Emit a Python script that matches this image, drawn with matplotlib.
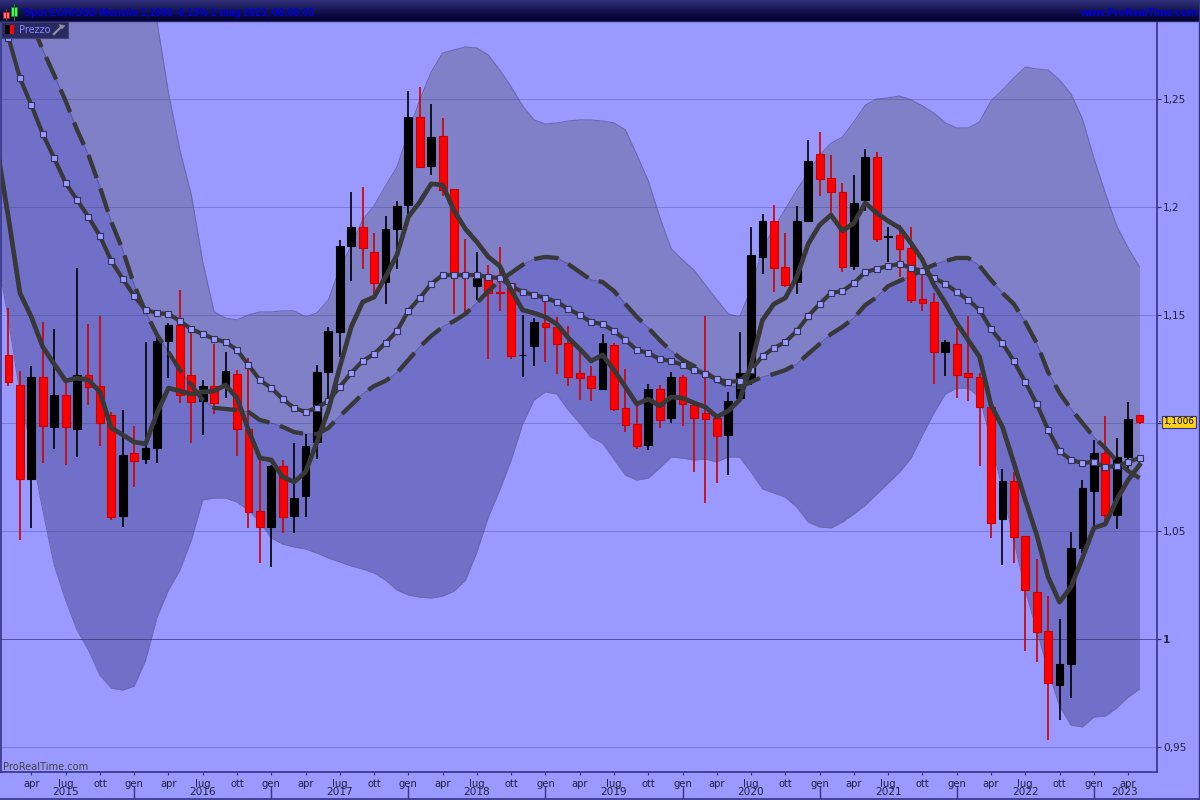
#!/usr/bin/env python3

import numpy as np
import matplotlib
matplotlib.use("Agg")
import matplotlib.pyplot as plt
from matplotlib.colors import LinearSegmentedColormap
from matplotlib.patches import Rectangle

# monthly candles, feb 2015 .. mag 2023
open_px = [1.1315, 1.1176, 1.0741, 1.1213, 1.0982, 1.1130, 1.0972, 1.1222, 1.1171, 1.1037,
           1.0569, 1.0861, 1.0833, 1.0884, 1.1380, 1.1454, 1.1222, 1.1102, 1.1171, 1.1167,
           1.1227, 1.0972, 1.0593, 1.0519, 1.0801, 1.0569, 1.0662, 1.0912, 1.1236, 1.1421,
           1.1820, 1.1908, 1.1792, 1.1653, 1.1898, 1.2009, 1.2417, 1.2190, 1.2329, 1.2084,
           1.1695, 1.1634, 1.1676, 1.1607, 1.1648, 1.1315, 1.1357, 1.1463, 1.1445, 1.1370,
           1.1232, 1.1218, 1.1158, 1.1361, 1.1070, 1.0995, 1.0898, 1.1158, 1.1023, 1.1213,
           1.1083, 1.1046, 1.1023, 1.0945, 1.1116, 1.1199, 1.1769, 1.1935, 1.1722, 1.1653,
           1.1935, 1.2246, 1.2134, 1.2070, 1.1727, 1.2033, 1.2232, 1.1861, 1.1871, 1.1810,
           1.1574, 1.1560, 1.1329, 1.1366, 1.1232, 1.1213, 1.1074, 1.0556, 1.0732, 1.0477,
           1.0218, 1.0037, 0.9787, 0.9884, 1.0421, 1.0685, 1.0861, 1.0574, 1.0843, 1.1037]
high_px = [1.1532, 1.1241, 1.1264, 1.1468, 1.1435, 1.1190, 1.1718, 1.1458, 1.1495, 1.1051,
           1.1060, 1.0986, 1.1375, 1.1398, 1.1463, 1.1616, 1.1431, 1.1199, 1.1366, 1.1329,
           1.1245, 1.1301, 1.0829, 1.0806, 1.0829, 1.0907, 1.0949, 1.1269, 1.1445, 1.1847,
           1.2070, 1.2093, 1.1880, 1.1958, 1.2028, 1.2537, 1.2556, 1.2477, 1.2412, 1.2084,
           1.1852, 1.1792, 1.1732, 1.1815, 1.1648, 1.1500, 1.1486, 1.1560, 1.1491, 1.1449,
           1.1338, 1.1264, 1.1412, 1.1370, 1.1250, 1.1079, 1.1181, 1.1176, 1.1236, 1.1222,
           1.1088, 1.1495, 1.1037, 1.1144, 1.1421, 1.1908, 1.1968, 1.2009, 1.1880, 1.2005,
           1.2310, 1.2347, 1.2241, 1.2111, 1.2148, 1.2269, 1.2255, 1.1908, 1.1917, 1.1908,
           1.1708, 1.1602, 1.1384, 1.1440, 1.1495, 1.1232, 1.1074, 1.0787, 1.0773, 1.0477,
           1.0370, 1.0199, 1.0093, 1.0495, 1.0736, 1.0921, 1.1032, 1.0931, 1.1097, 1.1037]
low_px = [1.1171, 1.0458, 1.0514, 1.0815, 1.0880, 1.0806, 1.0843, 1.1083, 1.0894, 1.0551,
          1.0519, 1.0704, 1.0810, 1.0815, 1.1208, 1.1093, 1.0907, 1.0945, 1.1042, 1.1116,
          1.0847, 1.0514, 1.0352, 1.0333, 1.0491, 1.0491, 1.0565, 1.0833, 1.1107, 1.1306,
          1.1658, 1.1713, 1.1593, 1.1551, 1.1713, 1.1954, 1.2185, 1.2148, 1.2051, 1.1505,
          1.1514, 1.1570, 1.1296, 1.1519, 1.1296, 1.1213, 1.1264, 1.1283, 1.1227, 1.1171,
          1.1107, 1.1102, 1.1153, 1.1056, 1.0958, 1.0880, 1.0875, 1.0977, 1.1000, 1.0986,
          1.0773, 1.0630, 1.0722, 1.0759, 1.1111, 1.1176, 1.1690, 1.1607, 1.1630, 1.1597,
          1.1931, 1.2051, 1.1963, 1.1699, 1.1708, 1.1982, 1.1838, 1.1746, 1.1676, 1.1556,
          1.1519, 1.1181, 1.1218, 1.1116, 1.1102, 1.0801, 1.0468, 1.0343, 1.0352, 0.9944,
          0.9894, 0.9532, 0.9625, 0.9727, 1.0398, 1.0519, 1.0542, 1.0509, 1.0782, 1.0995]
close_px = [1.1190, 1.0741, 1.1213, 1.0986, 1.1130, 1.0982, 1.1222, 1.1167, 1.1000, 1.0565,
            1.0852, 1.0824, 1.0884, 1.1380, 1.1454, 1.1130, 1.1097, 1.1171, 1.1093, 1.1241,
            1.0972, 1.0588, 1.0519, 1.0801, 1.0565, 1.0653, 1.0894, 1.1236, 1.1426, 1.1820,
            1.1908, 1.1810, 1.1648, 1.1898, 1.2005, 1.2417, 1.2185, 1.2324, 1.2079, 1.1695,
            1.1685, 1.1671, 1.1602, 1.1602, 1.1310, 1.1317, 1.1468, 1.1445, 1.1366, 1.1213,
            1.1208, 1.1162, 1.1370, 1.1065, 1.0991, 1.0894, 1.1158, 1.1014, 1.1213, 1.1088,
            1.1023, 1.1019, 1.0940, 1.1102, 1.1232, 1.1778, 1.1935, 1.1718, 1.1639, 1.1935,
            1.2213, 1.2130, 1.2070, 1.1722, 1.2019, 1.2232, 1.1852, 1.1868, 1.1806, 1.1570,
            1.1556, 1.1329, 1.1375, 1.1222, 1.1213, 1.1072, 1.0537, 1.0732, 1.0472, 1.0227,
            1.0032, 0.9796, 0.9884, 1.0421, 1.0699, 1.0861, 1.0574, 1.0843, 1.1019, 1.1006]

# the indicators start one month before the first visible candle
fast_ma = [1.2273, 1.1949, 1.1602, 1.1491, 1.1352, 1.1273, 1.1195, 1.1208, 1.1199, 1.1144, 1.0977,
           1.0945, 1.0912, 1.0903, 1.1046, 1.1162, 1.1148, 1.1134, 1.1144, 1.1148, 1.1176,
           1.1116, 1.0968, 1.0838, 1.0829, 1.0750, 1.0727, 1.0773, 1.0912, 1.1060, 1.1259,
           1.1445, 1.1560, 1.1583, 1.1676, 1.1778, 1.1954, 1.2023, 1.2107, 1.2102, 1.1982,
           1.1898, 1.1838, 1.1769, 1.1727, 1.1616, 1.1523, 1.1509, 1.1491, 1.1458, 1.1394,
           1.1343, 1.1287, 1.1315, 1.1245, 1.1167, 1.1088, 1.1111, 1.1079, 1.1120, 1.1116,
           1.1093, 1.1074, 1.1028, 1.1056, 1.1107, 1.1269, 1.1477, 1.1551, 1.1579, 1.1676,
           1.1829, 1.1917, 1.1963, 1.1889, 1.1926, 1.2019, 1.1972, 1.1935, 1.1903, 1.1833,
           1.1755, 1.1639, 1.1556, 1.1463, 1.1384, 1.1306, 1.1083, 1.0982, 1.0815, 1.0644,
           1.0482, 1.0287, 1.0171, 1.0241, 1.0375, 1.0514, 1.0532, 1.0644, 1.0736, 1.0806]
mid_ma = [1.2959, 1.2783, 1.2597, 1.2472, 1.2338, 1.2227, 1.2111, 1.2033, 1.1954, 1.1866, 1.1750,
          1.1667, 1.1588, 1.1523, 1.1509, 1.1505, 1.1472, 1.1435, 1.1412, 1.1389, 1.1375,
          1.1338, 1.1269, 1.1199, 1.1162, 1.1111, 1.1070, 1.1051, 1.1070, 1.1102, 1.1167,
          1.1232, 1.1287, 1.1320, 1.1370, 1.1426, 1.1519, 1.1579, 1.1644, 1.1685, 1.1685,
          1.1685, 1.1685, 1.1676, 1.1671, 1.1634, 1.1607, 1.1593, 1.1579, 1.1560, 1.1528,
          1.1500, 1.1468, 1.1458, 1.1426, 1.1384, 1.1338, 1.1324, 1.1296, 1.1287, 1.1269,
          1.1245, 1.1227, 1.1204, 1.1190, 1.1195, 1.1245, 1.1310, 1.1347, 1.1375, 1.1426,
          1.1495, 1.1551, 1.1602, 1.1611, 1.1648, 1.1699, 1.1713, 1.1727, 1.1736, 1.1718,
          1.1704, 1.1671, 1.1644, 1.1607, 1.1570, 1.1523, 1.1435, 1.1370, 1.1287, 1.1190,
          1.1088, 1.0968, 1.0870, 1.0829, 1.0815, 1.0820, 1.0796, 1.0801, 1.0820, 1.0838]
slow_ma = [1.3283, 1.3144, 1.3005, 1.2852, 1.2727, 1.2611, 1.2491, 1.2357, 1.2241, 1.2093, 1.1931,
           1.1801, 1.1639, 1.1514, 1.1408, 1.1329, 1.1245, 1.1176, 1.1107, 1.1070, 1.1065,
           1.1060, 1.1051, 1.1014, 1.1000, 1.0982, 1.0958, 1.0949, 1.0949, 1.0977, 1.1032,
           1.1083, 1.1134, 1.1171, 1.1195, 1.1232, 1.1292, 1.1352, 1.1403, 1.1445, 1.1472,
           1.1505, 1.1556, 1.1611, 1.1658, 1.1695, 1.1732, 1.1759, 1.1769, 1.1764, 1.1736,
           1.1699, 1.1662, 1.1653, 1.1611, 1.1551, 1.1491, 1.1440, 1.1384, 1.1333, 1.1292,
           1.1264, 1.1236, 1.1199, 1.1171, 1.1167, 1.1190, 1.1213, 1.1227, 1.1245, 1.1273,
           1.1320, 1.1366, 1.1412, 1.1445, 1.1486, 1.1546, 1.1583, 1.1634, 1.1658, 1.1681,
           1.1708, 1.1732, 1.1750, 1.1764, 1.1764, 1.1727, 1.1662, 1.1602, 1.1551, 1.1468,
           1.1370, 1.1236, 1.1139, 1.1065, 1.1000, 1.0935, 1.0884, 1.0824, 1.0778, 1.0745]
upper_band = [1.4200, 1.4150, 1.4100, 1.4050, 1.4000, 1.3950, 1.3900, 1.3850, 1.3800, 1.3750, 1.3700,
              1.3650, 1.3450, 1.3167, 1.2857, 1.2528, 1.2264, 1.2056, 1.1746, 1.1514, 1.1486,
              1.1477, 1.1500, 1.1514, 1.1514, 1.1519, 1.1519, 1.1491, 1.1509, 1.1570, 1.1718,
              1.1820, 1.1940, 1.2005, 1.2097, 1.2185, 1.2343, 1.2496, 1.2625, 1.2713, 1.2727,
              1.2741, 1.2736, 1.2704, 1.2634, 1.2556, 1.2468, 1.2403, 1.2384, 1.2389, 1.2398,
              1.2403, 1.2403, 1.2398, 1.2389, 1.2357, 1.2241, 1.2121, 1.1954, 1.1806, 1.1755,
              1.1708, 1.1639, 1.1570, 1.1505, 1.1491, 1.1621, 1.1806, 1.1903, 1.1991, 1.2079,
              1.2158, 1.2241, 1.2296, 1.2324, 1.2394, 1.2472, 1.2500, 1.2505, 1.2514, 1.2496,
              1.2468, 1.2435, 1.2389, 1.2366, 1.2366, 1.2394, 1.2491, 1.2542, 1.2597, 1.2648,
              1.2639, 1.2634, 1.2588, 1.2523, 1.2408, 1.2227, 1.2065, 1.1912, 1.1810, 1.1722]
lower_band = [1.1778, 1.1477, 1.1139, 1.0875, 1.0597, 1.0343, 1.0181, 1.0042, 0.9949, 0.9833, 0.9773,
              0.9764, 0.9782, 0.9903, 1.0102, 1.0227, 1.0319, 1.0458, 1.0644, 1.0653, 1.0653,
              1.0634, 1.0597, 1.0542, 1.0468, 1.0440, 1.0426, 1.0417, 1.0398, 1.0375, 1.0357,
              1.0338, 1.0324, 1.0306, 1.0273, 1.0227, 1.0204, 1.0194, 1.0190, 1.0199, 1.0222,
              1.0273, 1.0403, 1.0565, 1.0690, 1.0829, 1.0995, 1.1107, 1.1144, 1.1134, 1.1060,
              1.1000, 1.0935, 1.0907, 1.0833, 1.0759, 1.0736, 1.0745, 1.0792, 1.0843, 1.0838,
              1.0829, 1.0833, 1.0820, 1.0843, 1.0843, 1.0773, 1.0695, 1.0676, 1.0657, 1.0611,
              1.0542, 1.0519, 1.0514, 1.0542, 1.0579, 1.0620, 1.0671, 1.0722, 1.0773, 1.0838,
              1.0945, 1.1046, 1.1134, 1.1162, 1.1162, 1.1120, 1.0921, 1.0690, 1.0458, 1.0227,
              1.0042, 0.9856, 0.9690, 0.9602, 0.9593, 0.9639, 0.9643, 0.9681, 0.9731, 0.9769]

price_ticks = [0.95, 1.0, 1.05, 1.1, 1.15, 1.2, 1.25]
price_labels = ["0,95", "1", "1,05", "", "1,15", "1,2", "1,25"]
month_ticks = [2, 5, 8, 11, 14, 17, 20, 23, 26, 29, 32, 35, 38, 41, 44, 47, 50, 53, 56, 59,
               62, 65, 68, 71, 74, 77, 80, 83, 86, 89, 92, 95, 98]
month_names = ["apr", "lug", "ott", "gen"] * 8 + ["apr"]
year_names = ["2015", "2016", "2017", "2018", "2019", "2020", "2021", "2022", "2023"]
year_centers = [5, 17, 29, 41, 53, 65, 77, 89, 97.7]
year_starts = [11, 23, 35, 47, 59, 71, 83, 95]

BG = "#9999ff"
NAVY = "#333388"
LINE = "#383838"

fig = plt.figure(figsize=(12, 8), dpi=100, facecolor=BG)
ax = fig.add_axes([1 / 1200, 28 / 800, 1156 / 1200, 750 / 800], facecolor=BG)

x_bars = np.arange(len(close_px))
x_lines = np.arange(-1, len(close_px))

ax.fill_between(x_lines, upper_band, slow_ma, color="#8080c8", lw=0, zorder=1)
ax.fill_between(x_lines, slow_ma, lower_band, color="#7070c8", lw=0, zorder=1)
ax.plot(x_lines, upper_band, color="#6a6ab0", lw=0.8, zorder=1.5)
ax.plot(x_lines, lower_band, color="#6a6ab0", lw=0.8, zorder=1.5)
ax.plot(x_lines, slow_ma, color="#5a5aa8", lw=0.8, zorder=1.5)

for p in price_ticks:
    if p == 1.0:
        ax.axhline(p, color="#333377", alpha=0.7, lw=0.72, zorder=2)
    else:
        ax.axhline(p, color="#333388", alpha=0.28, lw=0.72, zorder=2)

colors = ["#000000" if c >= o else "#ff0000" for o, c in zip(open_px, close_px)]
edges = ["#000000" if c >= o else "#cc0000" for o, c in zip(open_px, close_px)]
bottoms = np.minimum(open_px, close_px)
heights = np.abs(np.array(close_px) - np.array(open_px))
ax.vlines(x_bars, low_px, high_px, colors=edges, lw=1.2, zorder=3)
ax.bar(x_bars, heights, bottom=bottoms, width=0.68, color=colors, edgecolor=edges, lw=0.8, zorder=4)

ax.plot(x_lines, slow_ma, color=LINE, lw=3.1, ls=(2, (5.7, 2.56)), zorder=5, dash_capstyle="butt")
ax.plot(x_lines, mid_ma, color=LINE, lw=3.0, zorder=5,
        marker="s", ms=4.0, mfc=BG, mec="#333355", mew=0.8)
ax.plot(x_lines, fast_ma, color=LINE, lw=3.4, zorder=6, solid_joinstyle="round")

ax.set_xlim(-0.656, 100.53)
ax.set_ylim(0.93843, 1.28565)

ax.spines["top"].set_visible(False)
for side in ["left", "right", "bottom"]:
    ax.spines[side].set_color(NAVY)
    ax.spines[side].set_linewidth(1.2)

ax.yaxis.tick_right()
ax.set_yticks(price_ticks)
ax.set_yticklabels(price_labels, fontsize=7.6, color="#222244")
ax.tick_params(axis="y", length=3, width=0.8, color="#333366", pad=1.5)
for lab, txt in zip(ax.get_yticklabels(), price_labels):
    if txt == "1":
        lab.set_fontweight("bold")

ax.set_xticks(month_ticks)
ax.set_xticklabels(month_names, fontsize=7.2, color="#222244")
ax.tick_params(axis="x", length=2.5, width=0.8, color=NAVY, pad=2.5)

# last price flag on the scale
ax.annotate("1,1006", xy=(1, close_px[-1]), xycoords=("axes fraction", "data"),
            xytext=(4.6, 0), textcoords="offset points", ha="left", va="center",
            fontsize=6.4, color="black", annotation_clip=False,
            bbox=dict(boxstyle="square,pad=0.18", fc="#ffd21a", ec=NAVY, lw=0.8))
ax.annotate("", xy=(1, close_px[-1]), xycoords=("axes fraction", "data"),
            xytext=(4, 0), textcoords="offset points",
            arrowprops=dict(arrowstyle="-", color="black", lw=1), annotation_clip=False)

# header strip
head = fig.add_axes([0, 1 - 21 / 800, 1, 21 / 800])
head_cmap = LinearSegmentedColormap.from_list("head", ["#30307a", "#141450", "#000030"])
head.imshow(np.linspace(0, 1, 21).reshape(-1, 1), aspect="auto", cmap=head_cmap)
head.axis("off")

# everything outside the plot is placed in screen pixels
over = fig.add_axes([0, 0, 1, 1], zorder=10)
over.set_xlim(0, 1200)
over.set_ylim(800, 0)
over.axis("off")
over.patch.set_alpha(0)

over.plot([0, 1200], [21, 21], color="#222266", lw=1)
over.plot([0, 1200], [798.5, 798.5], color=NAVY, lw=1.2)
over.plot([1199, 1199], [0, 800], color=NAVY, lw=1)

over.add_patch(Rectangle((3, 12), 6, 6, fc="#ff7070", ec="#aa2020", lw=0.6))
over.plot([6, 6], [9, 20], color="#aa2020", lw=0.7, zorder=1)
over.add_patch(Rectangle((11, 7), 6, 9, fc="#55ee55", ec="#118811", lw=0.6))
over.plot([14, 14], [4, 20], color="#118811", lw=0.7, zorder=1)

over.text(23.5, 12.5, "Spot EUR/USD Mensile 1,1006 -0,13% 1 mag 2023, 08:00:03", fontsize=7.5,
          family="Liberation Sans", fontweight="bold", color="#0000dd", ha="left", va="center")
over.text(1197, 12.5, "www.ProRealTime.com", fontsize=7.7, family="Liberation Sans",
          fontweight="bold", color="#0000dd", ha="right", va="center")

over.add_patch(Rectangle((1, 22), 66.5, 15.5, fc="#2a2a62", ec="#44447a", lw=0.8))
over.add_patch(Rectangle((5, 25), 4.5, 9, fc="black", lw=0))
over.add_patch(Rectangle((9.5, 25), 4.5, 9, fc="#ff0000", lw=0))
over.text(18.5, 29.8, "Prezzo", fontsize=7, color="#8888ff", ha="left", va="center")
over.plot([54, 59, 62], [34, 29, 26], color="#9090a0", lw=1.6)
over.plot([60, 62, 64], [25, 28, 26], color="#9090a0", lw=1.2)

over.text(3, 766.5, "ProRealTime.com", fontsize=7.1, color="#444444", ha="left", va="center")

for name, c in zip(year_names, year_centers):
    over.text(8.5 + 11.425 * c, 792, name, fontsize=7.6, color="#222244", ha="center", va="center")
for s in year_starts:
    xs = 8.5 + 11.425 * s
    over.plot([xs, xs], [787, 798], color=NAVY, lw=1)

fig.savefig("out.png", dpi=100, facecolor=BG)
